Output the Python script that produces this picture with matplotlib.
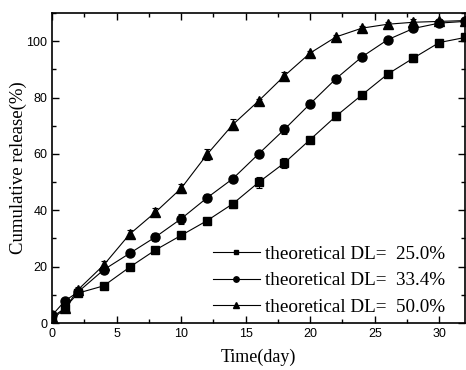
import numpy as np
import matplotlib.pyplot as plt
from matplotlib.ticker import MultipleLocator

# Dados
dias = [0, 1, 2, 4, 6, 8, 10, 12, 14, 16, 18, 20, 22, 24, 26, 28, 30, 32]
dl25 = [1.0, 5.5, 10.6, 13.2, 19.8, 25.9, 31.1, 36.3, 42.3, 49.9, 56.8, 65.1, 73.4, 80.9, 88.3, 94.0, 99.5, 101.3]
dl33 = [2.8, 7.9, 11.0, 18.9, 24.7, 30.5, 37.0, 44.4, 51.2, 60.0, 68.7, 77.8, 86.7, 94.4, 100.5, 104.5, 106.4, 107.0]
dl50 = [2.2, 5.2, 11.8, 20.6, 31.5, 39.3, 47.8, 59.8, 70.4, 78.8, 87.7, 95.8, 101.5, 104.6, 106.0, 106.7, 107.0, 107.3]
err25 = [0.5, 0.8, 0.8, 0.8, 0.8, 0.8, 0.8, 0.8, 1.5, 2.0, 1.8, 0.8, 1.5, 0.8, 0.8, 1.5, 0.8, 0.8]
err33 = [0.5, 0.8, 0.8, 1.0, 0.8, 1.5, 1.8, 1.2, 0.8, 0.8, 1.5, 1.2, 0.8, 0.8, 0.8, 0.8, 0.8, 0.8]
err50 = [0.5, 0.8, 0.8, 1.5, 1.5, 1.5, 1.5, 1.8, 2.0, 0.8, 1.5, 0.8, 0.8, 0.8, 0.8, 1.2, 0.8, 0.8]
rotulos = ['theoretical DL=  25.0%', 'theoretical DL=  33.4%', 'theoretical DL=  50.0%']

fig = plt.figure(figsize=(4.66, 3.70), dpi=100)
ax = fig.add_axes([0.112, 0.127, 0.886, 0.838])

series = [(dl25, err25, 's', 5.5), (dl33, err33, 'o', 6.5), (dl50, err50, '^', 7)]
linhas = []
for (y, e, m, ms), lab in zip(series, rotulos):
    c = ax.errorbar(dias, y, yerr=e, fmt='-' + m, color='black', markersize=ms,
                    linewidth=0.8, elinewidth=0.8, capsize=2.5, capthick=0.8,
                    label=lab)
    linhas.append(c[0])  # so a linha com marcador vai para a legenda

ax.set_xlim(0, 32)
ax.set_ylim(0, 110)
ax.xaxis.set_major_locator(MultipleLocator(5))
ax.xaxis.set_minor_locator(MultipleLocator(2.5))
ax.yaxis.set_major_locator(MultipleLocator(20))
ax.yaxis.set_minor_locator(MultipleLocator(10))
ax.tick_params(which='both', direction='in', top=True, right=True, width=1)
ax.tick_params(which='major', length=5)
ax.tick_params(which='minor', length=3)
for lbl in ax.get_xticklabels() + ax.get_yticklabels():
    lbl.set_fontfamily('Liberation Sans')
    lbl.set_fontsize(9)
for s in ax.spines.values():
    s.set_linewidth(1.2)

ax.set_xlabel('Time(day)', fontfamily='Liberation Serif', fontsize=13, labelpad=6)
ax.set_ylabel('Cumulative release(%)', fontfamily='Liberation Serif', fontsize=13.5, labelpad=-0.5)

leg = ax.legend(handles=linhas, labels=rotulos, loc='upper left',
                bbox_to_anchor=(0.366, 0.281), frameon=False, borderpad=0,
                prop={'family': 'Liberation Serif', 'size': 13.8},
                handlelength=2.45, handletextpad=0.26, labelspacing=0.48,
                numpoints=1, markerscale=0.6)

fig.savefig('out.png', dpi=100)
